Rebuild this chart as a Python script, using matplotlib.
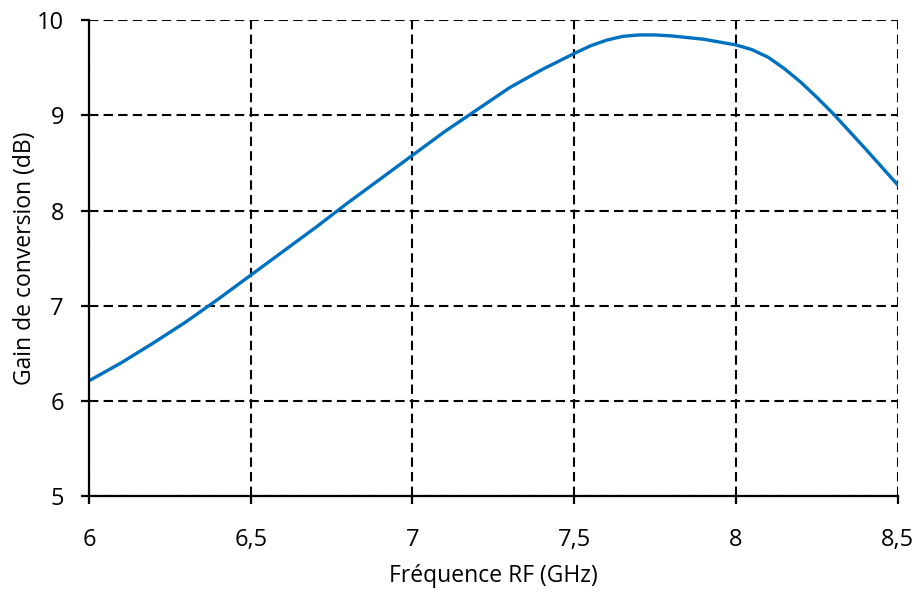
import matplotlib
matplotlib.use("Agg")
import matplotlib.pyplot as plt

# donnees
freq_ghz = [6.0, 6.1, 6.2, 6.3, 6.4, 6.5, 6.6, 6.7, 6.8, 6.9, 7.0, 7.1, 7.2,
            7.3, 7.4, 7.5, 7.55, 7.6, 7.65, 7.7, 7.75, 7.8, 7.9, 8.0, 8.05,
            8.1, 8.15, 8.2, 8.25, 8.3, 8.4, 8.5]
gain_db = [6.21, 6.40, 6.61, 6.83, 7.07, 7.32, 7.57, 7.82, 8.08, 8.33, 8.58,
           8.83, 9.06, 9.29, 9.48, 9.65, 9.73, 9.79, 9.83, 9.845, 9.845, 9.835,
           9.80, 9.74, 9.69, 9.61, 9.49, 9.35, 9.19, 9.02, 8.65, 8.27]

x_ticks = [6, 6.5, 7, 7.5, 8, 8.5]
x_labels = ["6", "6,5", "7", "7,5", "8", "8,5"]
y_ticks = [5, 6, 7, 8, 9, 10]

plt.rcParams['font.family'] = ['Open Sans', 'DejaVu Sans']

fig = plt.figure(figsize=(9.2, 5.94), dpi=100)
ax = fig.add_axes([0.0967, 0.165, 0.879, 0.801])

ax.plot(freq_ghz, gain_db, color='#0070C0', lw=2.4, zorder=3)

ax.set_xlim(6, 8.5)
ax.set_ylim(5, 10)
ax.set_xticks(x_ticks)
ax.set_xticklabels(x_labels)
ax.set_yticks(y_ticks)

# grille pointillee noire
ax.grid(True, color='black', lw=1.5, linestyle=(0, (4.5, 2.5)))
ax.set_axisbelow(True)

for s in ['top', 'right']:
    ax.spines[s].set_visible(False)
for s in ['left', 'bottom']:
    ax.spines[s].set_linewidth(1.6)
    ax.spines[s].set_zorder(4)

ax.tick_params(axis='both', direction='out', length=6, width=1.6,
               labelsize=17)
ax.tick_params(axis='x', pad=17)
ax.tick_params(axis='y', pad=12)

ax.set_xlabel("Fréquence RF (GHz)", fontsize=16.5, labelpad=9)
ax.set_ylabel("Gain de conversion (dB)", fontsize=16.5, labelpad=0)

fig.savefig("out.png", dpi=100)
